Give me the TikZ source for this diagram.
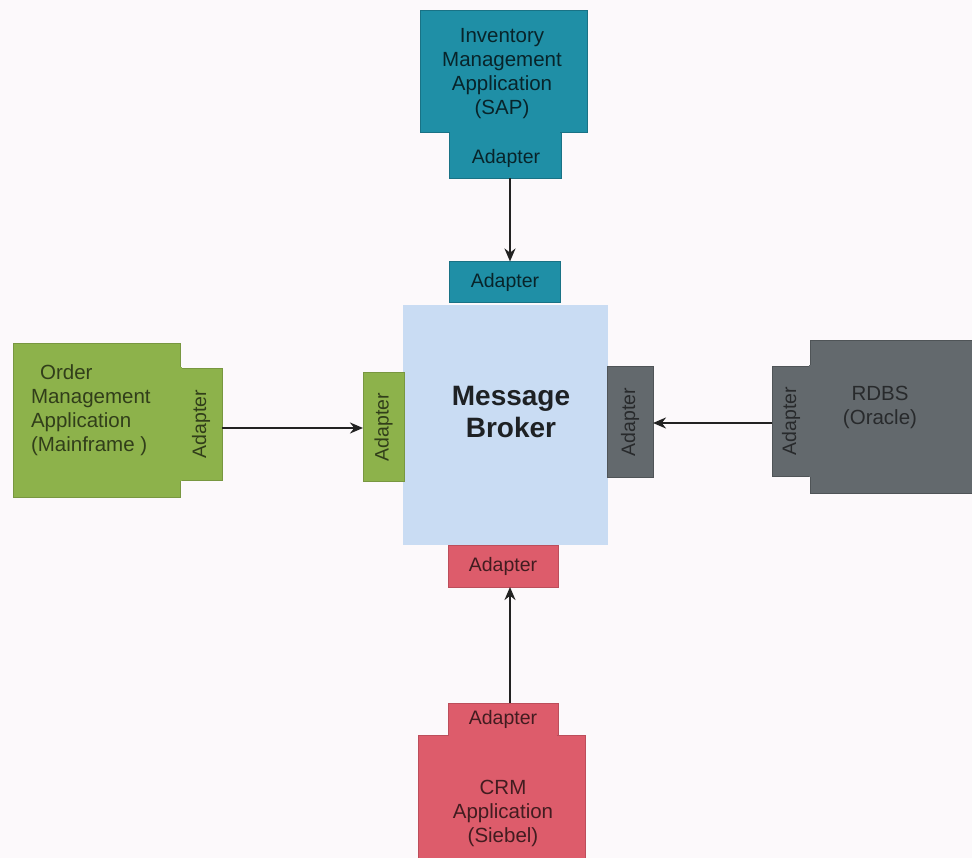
\documentclass[tikz,border=0pt]{standalone}
\usepackage{fontspec}
\setmainfont{Liberation Sans}
\usetikzlibrary{arrows.meta}

\definecolor{pagebg}{HTML}{FCF9FB}
\definecolor{brokerfill}{HTML}{C9DCF3}
\definecolor{tealfill}{HTML}{1F8FA6}
\definecolor{greenfill}{HTML}{8DB24B}
\definecolor{grayfill}{HTML}{63696D}
\definecolor{redfill}{HTML}{DD5C6B}
\definecolor{linecol}{HTML}{222222}

\tikzset{
  part/.style={rectangle, inner sep=0pt, outer sep=0pt, align=center,
    font=\fontsize{20.5}{24}\selectfont},
  tealpart/.style={part, fill=tealfill, draw=tealfill!80!black, text=tealfill!25!black},
  greenpart/.style={part, fill=greenfill, draw=greenfill!85!black, text=greenfill!35!black},
  graypart/.style={part, fill=grayfill, draw=grayfill!80!black, text=grayfill!40!black},
  redpart/.style={part, fill=redfill, draw=redfill!85!black, text=redfill!30!black},
  adaptertext/.style={font=\fontsize{19.5}{22}\selectfont},
  flow/.style={draw=linecol, line width=2.6pt, -{Stealth[length=13pt,width=11pt]}}
}

\begin{document}
\begin{tikzpicture}[x=1pt,y=-1pt]
  % page area
  \fill[pagebg] (0,0) rectangle (972,858);
  \useasboundingbox (0,0) rectangle (972,858);

  % central broker with its four adapters
  \node[part, fill=brokerfill, minimum width=205pt, minimum height=240pt] (brk) at (505.5,425) {};
  \node[font=\fontsize{28}{32}\selectfont\bfseries, text=brokerfill!15!black, align=center]
        (brktxt) at (511,412) {Message\\Broker};
  \node[tealpart, adaptertext, minimum width=111pt, minimum height=41pt] (brktop) at (505,282) {Adapter};
  \node[greenpart, minimum width=41pt, minimum height=109pt] (brkleft) at (383.5,427) {};
  \node[adaptertext, rotate=90, text=greenfill!35!black] (brklefttxt) at (brkleft.center) {Adapter};
  \node[graypart, minimum width=46pt, minimum height=111pt] (brkright) at (630,422) {};
  \node[adaptertext, rotate=90, text=grayfill!40!black] (brkrighttxt) at (brkright.center) {Adapter};
  \node[redpart, adaptertext, minimum width=110pt, minimum height=42pt] (brkbot) at (503,566) {Adapter};

  % inventory application (top)
  \node[tealpart, minimum width=167pt, minimum height=122pt] (topapp) at (503.5,71) {};
  \node[part, text=tealfill!25!black] (topapptxt) at (502,74)
        {Inventory\\Management\\Application\\(SAP)};
  \node[tealpart, minimum width=112pt, minimum height=46pt] (topappad) at (505,155) {};
  \fill[tealfill] ([xshift=1pt,yshift=-1.5pt]topappad.north west) rectangle ([xshift=-1pt,yshift=1.5pt]topappad.north east);
  \node[adaptertext, text=tealfill!25!black] (topappadtxt) at (506,158) {Adapter};

  % order management application (left)
  \node[greenpart, minimum width=167pt, minimum height=154pt] (leftapp) at (96.5,420) {};
  \node[part, align=left, anchor=west, text=greenfill!35!black] (leftapptxt) at (31,410)
        {\ \,Order\\Management\\Application\\(Mainframe )};
  \node[greenpart, minimum width=42pt, minimum height=112pt] (leftappad) at (201,424) {};
  \fill[greenfill] ([xshift=-1.5pt,yshift=1pt]leftappad.north west) rectangle ([xshift=1.5pt,yshift=-1pt]leftappad.south west);
  \node[adaptertext, rotate=90, text=greenfill!35!black] (leftappadtxt) at (leftappad.center) {Adapter};

  % database (right)
  \node[graypart, minimum width=162pt, minimum height=153pt] (rightapp) at (891,416.5) {};
  \node[part, text=grayfill!40!black] (rightapptxt) at (880,407) {RDBS\\(Oracle)};
  \node[graypart, minimum width=38pt, minimum height=110pt] (rightappad) at (791,421) {};
  \fill[grayfill] ([xshift=-1.5pt,yshift=1pt]rightappad.north east) rectangle ([xshift=1.5pt,yshift=-1pt]rightappad.south east);
  \node[adaptertext, rotate=90, text=grayfill!40!black] (rightappadtxt) at (rightappad.center) {Adapter};

  % crm application (bottom)
  \node[redpart, minimum width=167pt, minimum height=124pt] (botapp) at (501.5,797) {};
  \node[part, text=redfill!30!black] (botapptxt) at (503,813) {CRM\\Application\\(Siebel)};
  \node[redpart, adaptertext, minimum width=110pt, minimum height=32pt] (botappad) at (503,719) {Adapter};
  \fill[redfill] ([xshift=1pt,yshift=-1.5pt]botappad.south west) rectangle ([xshift=-1pt,yshift=1.5pt]botappad.south east);

  % message flows into the broker adapters
  \draw[flow] ([xshift=5pt]topappad.south) -- ([xshift=5pt]topappad.south |- brktop.north);
  \draw[flow] ([yshift=-4pt]leftappad.east) -- ([yshift=-4pt]leftappad.east -| brkleft.west);
  \draw[flow] ([yshift=-2pt]rightappad.west) -- ([yshift=-2pt]rightappad.west -| brkright.east);
  \draw[flow] ([xshift=7pt]botappad.north) -- ([xshift=7pt]botappad.north |- brkbot.south);
\end{tikzpicture}
\end{document}
